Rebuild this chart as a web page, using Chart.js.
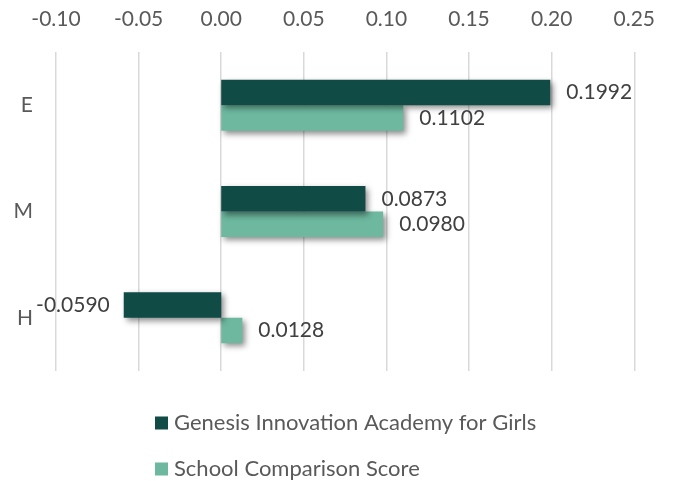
<!DOCTYPE html>
<html>
<head>
<meta charset="utf-8">
<script src="https://cdn.jsdelivr.net/npm/chart.js@4"></script>
<style>
  body { margin: 0; background: #ffffff; }
  #wrap { width: 675px; height: 481px; }
</style>
</head>
<body>
<div id="wrap"><canvas id="scoreChart"></canvas></div>
<script>
// Grade bands and the two score series
const bands = ['E', 'M', 'H'];
const schoolName = 'Genesis Innovation Academy for Girls';
const comparisonName = 'School Comparison Score';
const schoolScores = [0.1992, 0.0873, -0.0590];
const comparisonScores = [0.1102, 0.0980, 0.0128];

// Axis range and tick spacing
const axisMin = -0.10;
const axisMax = 0.25;
const axisStep = 0.05;

const darkGreen = '#104b46';
const lightGreen = '#6db89f';
const fontFamily = 'Lato, "Open Sans", sans-serif';

// Drop shadow under the bars, then the value labels next to each bar end
const barExtras = {
    id: 'barExtras',
    beforeDatasetsDraw(chart) {
        const ctx = chart.ctx;
        ctx.save();
        ctx.shadowColor = 'rgba(0, 0, 0, 0.45)';
        ctx.shadowBlur = 6;
        ctx.shadowOffsetX = 3;
        ctx.shadowOffsetY = 3;
    },
    afterDatasetsDraw(chart) {
        const ctx = chart.ctx;
        ctx.restore();

        ctx.save();
        ctx.font = '21px ' + fontFamily;
        ctx.fillStyle = '#404040';
        ctx.textBaseline = 'middle';
        chart.data.datasets.forEach((ds, i) => {
            const meta = chart.getDatasetMeta(i);
            meta.data.forEach((bar, j) => {
                const value = ds.data[j];
                if (value < 0) {
                    ctx.textAlign = 'right';
                    ctx.fillText(value.toFixed(4), bar.x - 14, bar.y);
                } else {
                    ctx.textAlign = 'left';
                    ctx.fillText(value.toFixed(4), bar.x + 16, bar.y);
                }
            });
        });
        ctx.restore();
    }
};

// Legend stacked in two rows under the plot
const stackedLegend = {
    id: 'stackedLegend',
    afterDraw(chart) {
        const ctx = chart.ctx;
        const rowTop = chart.chartArea.bottom + 52;
        const rowGap = 46;
        ctx.save();
        ctx.font = '22px ' + fontFamily;
        ctx.textBaseline = 'middle';
        ctx.textAlign = 'left';
        chart.data.datasets.forEach((ds, i) => {
            const y = rowTop + i * rowGap;
            ctx.fillStyle = ds.backgroundColor;
            ctx.fillRect(155, y - 6.5, 13, 13);
            ctx.fillStyle = '#595959';
            ctx.fillText(ds.label, 174, y);
        });
        ctx.restore();
    }
};

const ctx = document.getElementById('scoreChart').getContext('2d');
const scoreChart = new Chart(ctx, {
    type: 'bar',
    data: {
        labels: bands,
        datasets: [
            {
                label: schoolName,
                data: schoolScores,
                backgroundColor: darkGreen,
                categoryPercentage: 0.48,
                barPercentage: 1
            },
            {
                label: comparisonName,
                data: comparisonScores,
                backgroundColor: lightGreen,
                categoryPercentage: 0.48,
                barPercentage: 1
            }
        ]
    },
    options: {
        indexAxis: 'y',
        responsive: true,
        maintainAspectRatio: false,
        animation: false,
        layout: {
            padding: { top: 0, right: 38, bottom: 110, left: 0 }
        },
        plugins: {
            legend: { display: false },
            tooltip: { enabled: false }
        },
        scales: {
            x: {
                position: 'top',
                min: axisMin,
                max: axisMax,
                border: { display: false },
                grid: {
                    color: '#d9d9d9',
                    lineWidth: 1.5,
                    drawTicks: false
                },
                ticks: {
                    stepSize: axisStep,
                    padding: 20,
                    color: '#595959',
                    font: { family: fontFamily, size: 21 },
                    callback: (value) => (Math.abs(value) < 1e-9 ? 0 : value).toFixed(2)
                },
                afterFit(scale) {
                    scale.height = 52;
                }
            },
            y: {
                border: { display: false },
                grid: { display: false, drawTicks: false },
                ticks: {
                    padding: 23,
                    color: '#595959',
                    font: { family: fontFamily, size: 21 }
                },
                afterFit(scale) {
                    scale.width = 56;
                }
            }
        }
    },
    plugins: [barExtras, stackedLegend]
});
</script>
</body>
</html>
